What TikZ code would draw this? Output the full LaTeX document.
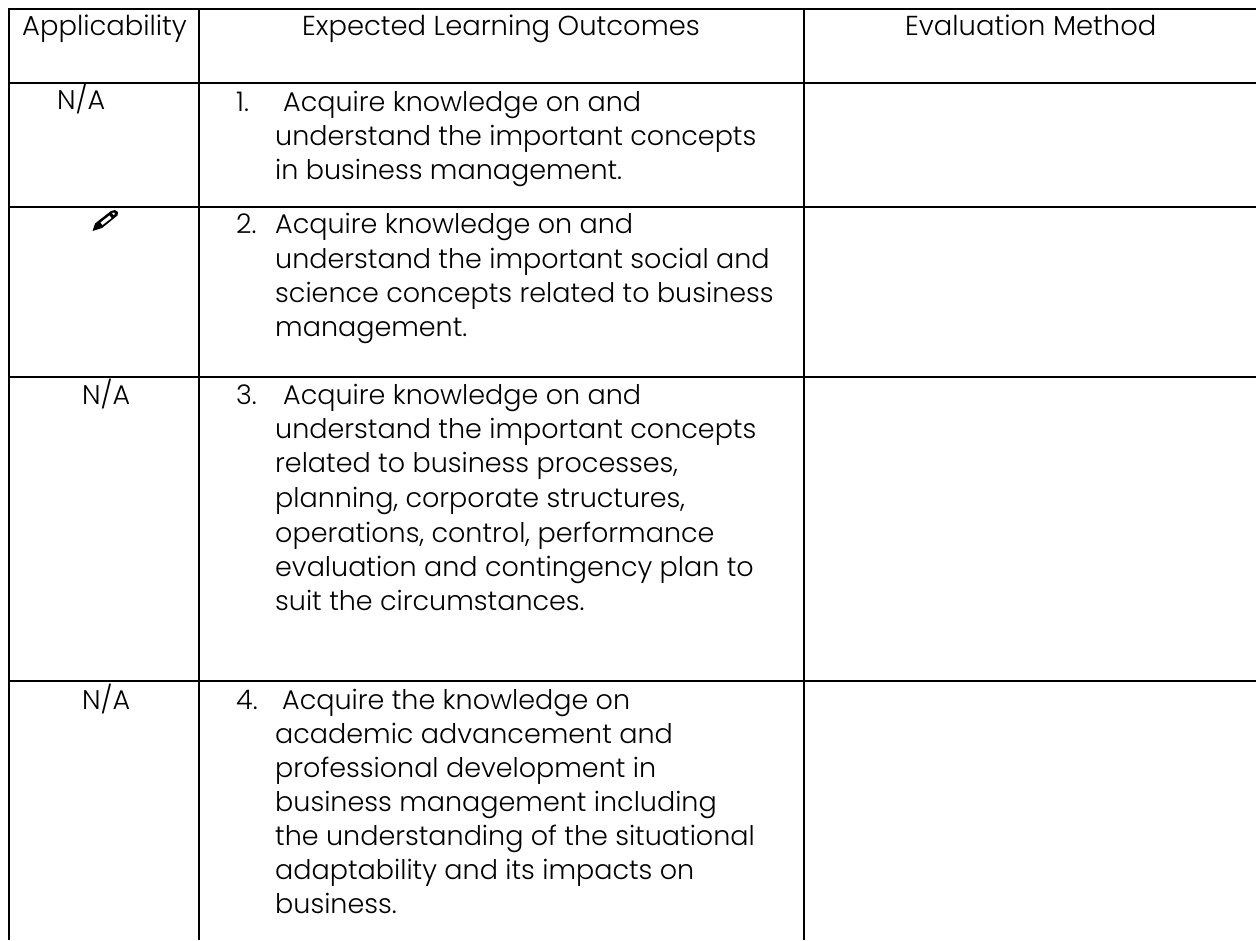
\documentclass[tikz,border=0pt]{standalone}
\usepackage{fontspec}
\setmainfont{Poppins}[UprightFont=* Light]
\begin{document}
\begin{tikzpicture}[x=1pt,y=-1pt,
  rule/.style={line width=2.2pt,black},
  txt/.style={anchor=base west,inner sep=0pt,font=\fontsize{27}{32}\selectfont,text=black},
  head/.style={txt,font=\fontsize{27.4}{32}\selectfont}]
\useasboundingbox[fill=white] (0,0) rectangle (1256,940);
\foreach \y/\n in {9/a,83/b,207/c,377/d,681/e}{
  \coordinate (l\n) at (8,\y); \coordinate (r\n) at (1256,\y);
  \draw[rule] (l\n) -- (r\n);
}
\foreach \x/\n in {9/p,199/q,804/s}{
  \coordinate (t\n) at (\x,8); \coordinate (b\n) at (\x,940);
  \draw[rule] (t\n) -- (b\n);
}
\node[head] (h1) at (22,35.5) {Applicability};
\node[head] (h2) at (302,35.5) {Expected Learning Outcomes};
\node[head] (h3) at (905,35.5) {Evaluation Method};
\node[txt] (na1) at (57,109) {N/A};
\node[txt] (na3) at (82,404) {N/A};
\node[txt] (na4) at (82,709) {N/A};
\foreach \y/\x/\t [count=\i] in {
111/236/{1.},
111/283/{Acquire knowledge on and},
145/275/{understand the important concepts},
179/275/{in business management.},
233/236/{2.},
233/275/{Acquire knowledge on and},
268/275/{understand the important social and},
302/275/{science concepts related to business},
336/275/{management.},
404/236/{3.},
404/283/{Acquire knowledge on and},
438/275/{understand the important concepts},
472/275/{related to business processes,},
507/275/{planning, corporate structures,},
542/275/{operations, control, performance},
576/275/{evaluation and contingency plan to},
610/275/{suit the circumstances.},
709/236/{4.},
709/282/{Acquire the knowledge on},
743/275/{academic advancement and},
777/275/{professional development in},
811/275/{business management including},
845/275/{the understanding of the situational},
879/275/{adaptability and its impacts on},
913/275/{business.}
}{\node[txt] (t\i) at (\x,\y) {\t};}
\fill[black] (92.5,231) -- (95,223.5) -- (111,211) -- (115,210) -- (118,212) -- (117.5,215.5) -- (102,228) -- cycle;
\fill[white] (100.5,222.5) -- (109.5,215.5) -- (111.5,218) -- (102.5,225) -- cycle;
\fill[white] (112,213) -- (114,212.5) -- (115,214) -- (113.5,215) -- cycle;
\end{tikzpicture}
\end{document}
